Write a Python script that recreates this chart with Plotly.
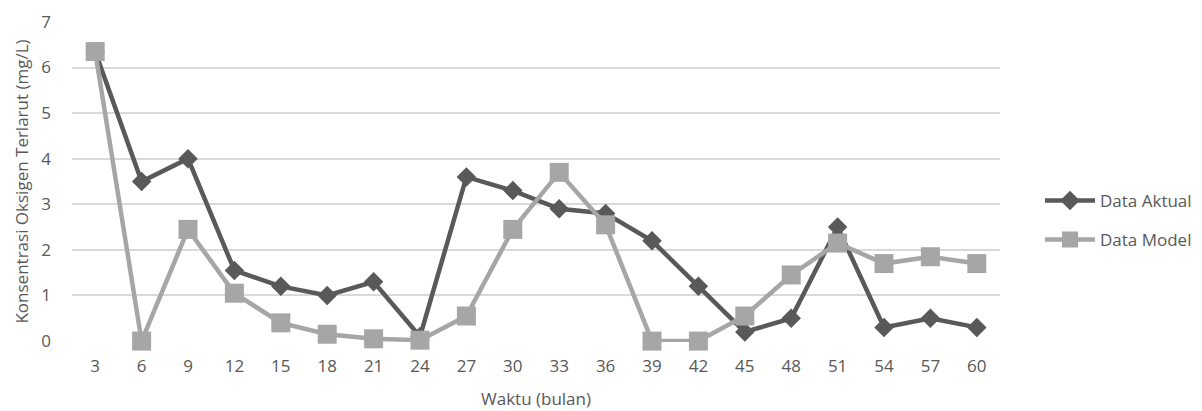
import plotly.graph_objects as go

bulan = [3, 6, 9, 12, 15, 18, 21, 24, 27, 30, 33, 36, 39, 42, 45, 48, 51, 54, 57, 60]
data_aktual = [6.35, 3.5, 4.0, 1.55, 1.2, 1.0, 1.3, 0.1, 3.6, 3.3, 2.9, 2.8, 2.2, 1.2, 0.2, 0.5, 2.5, 0.3, 0.5, 0.3]
data_model = [6.35, 0.0, 2.45, 1.05, 0.4, 0.15, 0.05, 0.02, 0.55, 2.45, 3.7, 2.55, 0.0, 0.0, 0.55, 1.45, 2.15, 1.7, 1.85, 1.7]
y_ticks = [0, 1, 2, 3, 4, 5, 6, 7]

x_labels = [str(b) for b in bulan]

fig = go.Figure()
fig.add_trace(go.Scatter(
    x=x_labels, y=data_aktual, name="Data Aktual", mode="lines+markers",
    legendgroup="a",
    line=dict(color="#595959", width=4.5),
    marker=dict(symbol="diamond", size=15, color="#595959"),
    cliponaxis=False,
))
fig.add_trace(go.Scatter(
    x=x_labels, y=data_model, name="Data Model", mode="lines+markers",
    legendgroup="b",
    line=dict(color="#a6a6a6", width=4.5),
    marker=dict(symbol="square", size=19, color="#a6a6a6"),
    cliponaxis=False,
))

fam = "Open Sans, Liberation Sans, sans-serif"
col = "#595959"

fig.update_layout(
    width=1194, height=403,
    margin=dict(l=64, r=202, t=13, b=69, autoexpand=False),
    paper_bgcolor="white", plot_bgcolor="white",
    font=dict(family=fam, size=17, color=col),
    legend=dict(x=1032 / 1194, xref="container", xanchor="left",
                y=0.379, yanchor="middle",
                font=dict(size=17, color=col), tracegroupgap=14,
                itemwidth=50),
    xaxis=dict(type="category", range=[-0.5, len(bulan) - 0.5], showgrid=False, zeroline=False, showline=False,
               ticks="", automargin=False, ticklabelstandoff=12, tickfont=dict(size=17, color=col),
               title=dict(text="Waktu (bulan)", font=dict(size=17, color=col), standoff=17)),
    yaxis=dict(range=[-0.02, 7.02], tickvals=y_ticks, showgrid=True, gridcolor="#d9d9d9", gridwidth=2,
               zeroline=False, showline=False, ticks="", ticklabelstandoff=20, automargin=False,
               tickfont=dict(size=17, color=col),
               title=dict(text="Konsentrasi Oksigen Terlarut (mg/L)", font=dict(size=17, color=col), standoff=8)),
)

fig.write_html("out.html")
